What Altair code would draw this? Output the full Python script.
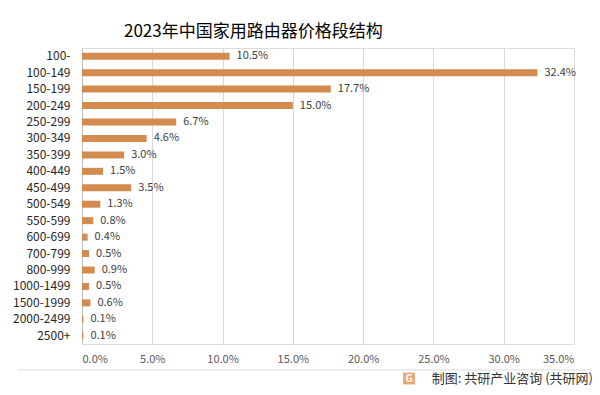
import altair as alt
import pandas as pd

categories = ["100-", "100-149", "150-199", "200-249", "250-299", "300-349", "350-399",
              "400-449", "450-499", "500-549", "550-599", "600-699", "700-799", "800-999",
              "1000-1499", "1500-1999", "2000-2499", "2500+"]
shares = [10.5, 32.4, 17.7, 15.0, 6.7, 4.6, 3.0, 1.5, 3.5, 1.3, 0.8, 0.4, 0.5, 0.9, 0.5, 0.6, 0.1, 0.1]
x_ticks = [0, 0.05, 0.10, 0.15, 0.20, 0.25, 0.30, 0.35]
title_text = "2023年中国家用路由器价格段结构"
source_text = "制图: 共研产业咨询 (共研网)"

df = pd.DataFrame({"cat": categories, "share": [s / 100 for s in shares]})

FONT = "Noto Sans CJK SC"
BAR = "#D48B4F"

base = alt.Chart(df)

bars = base.mark_bar(color=BAR, size=7).encode(
    y=alt.Y("cat:N", sort=categories, title=None,
            axis=alt.Axis(labelFontSize=12, labelColor="#262626", labelFont=FONT,
                          ticks=False, labelPadding=12, domainColor="#bfbfbf",
                          grid=False)),
    x=alt.X("share:Q", title=None,
            scale=alt.Scale(domain=[0, 0.35], nice=False),
            axis=alt.Axis(values=x_ticks, format=".1%", labelFontSize=11,
                          labelColor="#595959", labelFont=FONT, ticks=False,
                          domain=False, grid=True, gridColor="#d9d9d9",
                          labelPadding=9)),
)

labels = base.mark_text(align="left", baseline="middle", dx=7, fontSize=11,
                        font=FONT, color="#404040").encode(
    y=alt.Y("cat:N", sort=categories),
    x="share:Q",
    text=alt.Text("share:Q", format=".1%"),
)

footer_df = pd.DataFrame({"t": [source_text]})
footer_line = alt.Chart(footer_df).mark_rule(color="#d9d9d9", strokeWidth=1).encode(
    x=alt.value(-64), x2=alt.value(510), y=alt.value(322)
)
footer_text = alt.Chart(footer_df).mark_text(align="right", baseline="middle",
                                             fontSize=13, font=FONT,
                                             color="#333333").encode(
    x=alt.value(511), y=alt.value(330.5), text="t:N"
)
icon = alt.Chart(footer_df).mark_square(color="#E8803A", size=140).encode(
    x=alt.value(327), y=alt.value(330.5)
)
icon_g = alt.Chart(pd.DataFrame({"g": ["G"]})).mark_text(
    fontSize=10, fontWeight="bold", color="white", font=FONT,
    align="center", baseline="middle").encode(
    x=alt.value(327), y=alt.value(330.5), text="g:N"
)

chart = alt.layer(bars, labels, footer_line, icon, icon_g, footer_text).properties(
    width=492, height=296,
    autosize=alt.AutoSizeParams(type="none"),
    padding={"left": 74, "top": 40, "right": 18, "bottom": 43},
    title=alt.TitleParams(title_text, anchor="start", frame="group", dx=42, offset=7,
                          fontSize=17, font=FONT, fontWeight="normal",
                          color="#000000"),
).configure_view(stroke=None).configure(background="white")

chart.save("out.html", embed_options={"renderer": "svg", "actions": False})
